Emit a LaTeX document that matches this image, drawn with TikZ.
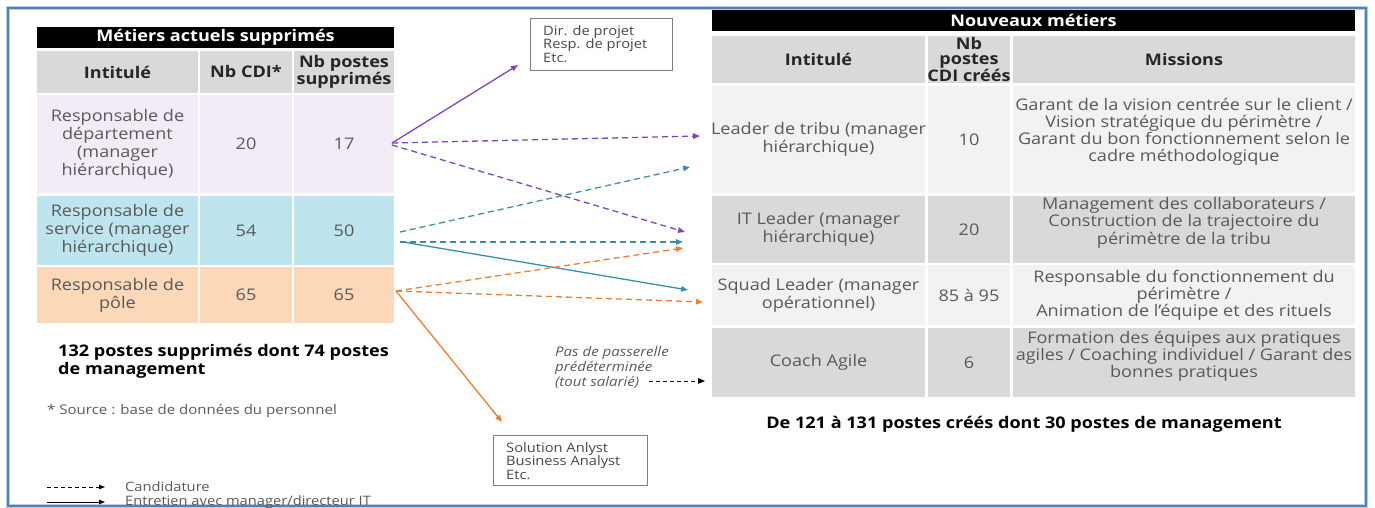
\documentclass[tikz,border=0pt]{standalone}
\usepackage{fontspec}
\setmainfont{Open Sans}[FakeStretch=1.13]
\usetikzlibrary{arrows.meta,calc}
\definecolor{framebl}{HTML}{4F81BD}
\definecolor{hdrgray}{HTML}{D9D9D9}
\definecolor{rowlight}{HTML}{F2F2F2}
\definecolor{rowdark}{HTML}{D9D9D9}
\definecolor{rowpurple}{HTML}{F2ECF7}
\definecolor{rowblue}{HTML}{BEE5EF}
\definecolor{rowpeach}{HTML}{FAD8B8}
\definecolor{txtgray}{HTML}{595959}
\definecolor{txtdark}{HTML}{262626}
\definecolor{cpurple}{HTML}{7F45BF}
\definecolor{cteal}{HTML}{3A8FA6}
\definecolor{corange}{HTML}{F07D2E}
\definecolor{boxline}{HTML}{7F7F7F}
\newcommand{\mkcell}[6]{\node[cellbox, fill=#6, minimum width=#4, minimum height=#5] (#1) at (#2,#3) {};}
\begin{document}
\begin{tikzpicture}[x=1pt,y=-1pt,
  cellbox/.style={rectangle, inner sep=0pt, outer sep=0pt, anchor=north west, draw=none},
  txt/.style={font=\fontsize{16}{18}\selectfont, text=txtgray, align=center, inner sep=0pt},
  hdr/.style={font=\fontsize{16}{17}\selectfont\bfseries, text=txtdark, align=center, inner sep=0pt},
  ttl/.style={font=\fontsize{16}{17}\selectfont\bfseries, text=white, inner sep=0pt},
  small/.style={font=\fontsize{13}{13.5}\selectfont, text=txtdark!85, align=left, inner sep=0pt},
  sbox/.style={rectangle, draw=boxline, line width=1pt, inner sep=0pt, anchor=north west},
  tip/.style={-{Triangle[length=7pt,width=5.5pt]}},
  solidarr/.style={tip, line width=1.3pt},
  dasharr/.style={tip, line width=1.3pt, dash pattern=on 6pt off 4pt},
]
\useasboundingbox (0,0) rectangle (1375,508);
% outer frame
\draw[framebl!40, line width=4pt] (8,8) rectangle (1366,506);
\draw[framebl, line width=2pt] (8,8) rectangle (1366,506);

% ---------------- left table
\node[cellbox, fill=black, minimum width=357, minimum height=21] (lt) at (37,27) {};
\node[ttl] at (lt.center) {Métiers actuels supprimés};
\mkcell{lh1}{37}{51}{161}{42}{hdrgray}
\mkcell{lh2}{200}{51}{92}{42}{hdrgray}
\mkcell{lh3}{294}{51}{100}{42}{hdrgray}
\node[hdr] at (lh1.center) {Intitulé};
\node[hdr] at (lh2.center) {Nb CDI*};
\node[hdr] at (lh3.center) {Nb postes\\supprimés};
\mkcell{lr1c1}{37}{95}{161}{98}{rowpurple}
\mkcell{lr1c2}{200}{95}{92}{98}{rowpurple}
\mkcell{lr1c3}{294}{95}{100}{98}{rowpurple}
\node[txt] at (lr1c1.center) {Responsable de\\département\\(manager\\hiérarchique)};
\node[txt] at (lr1c2.center) {20};
\node[txt] at (lr1c3.center) {17};
\mkcell{lr2c1}{37}{196}{161}{69}{rowblue}
\mkcell{lr2c2}{200}{196}{92}{69}{rowblue}
\mkcell{lr2c3}{294}{196}{100}{69}{rowblue}
\node[txt] at (lr2c1.center) {Responsable de\\service (manager\\hiérarchique)};
\node[txt] at (lr2c2.center) {54};
\node[txt] at (lr2c3.center) {50};
\mkcell{lr3c1}{37}{267}{161}{56}{rowpeach}
\mkcell{lr3c2}{200}{267}{92}{56}{rowpeach}
\mkcell{lr3c3}{294}{267}{100}{56}{rowpeach}
\node[txt] at (lr3c1.center) {Responsable de\\pôle};
\node[txt] at (lr3c2.center) {65};
\node[txt] at (lr3c3.center) {65};

\node[font=\fontsize{16}{18}\selectfont\bfseries, text=black, align=left, inner sep=0pt, anchor=north west] (tot) at (58,344) {132 postes supprimés dont 74 postes\\de management};
\node[font=\fontsize{13.3}{16}\selectfont, text=txtgray, inner sep=0pt, anchor=west] (src) at (47,411) {* Source : base de données du personnel};

% legend
\coordinate (lg1a) at (47,487); \coordinate (lg1b) at (105,487);
\coordinate (lg2a) at (47,502); \coordinate (lg2b) at (105,502);
\draw[line width=1pt, dash pattern=on 4pt off 3pt, -{Triangle[length=6pt,width=4.5pt]}] (lg1a) -- (lg1b);
\draw[line width=1pt, -{Triangle[length=6pt,width=4.5pt]}] (lg2a) -- (lg2b);
\node[font=\fontsize{13}{14}\selectfont, text=txtgray, inner sep=0pt, anchor=west] (lgt1) at (125,487) {Candidature};
\node[font=\fontsize{13}{14}\selectfont, text=txtgray, inner sep=0pt, anchor=west] (lgt2) at (125,502) {Entretien avec manager/directeur IT};

% ---------------- right table
\node[cellbox, fill=black, minimum width=643, minimum height=21] (rt) at (712,10) {};
\node[ttl] at (rt.center) {Nouveaux métiers};
\mkcell{rh1}{712}{36}{213}{47}{hdrgray}
\mkcell{rh2}{928}{36}{82}{47}{hdrgray}
\mkcell{rh3}{1013}{36}{342}{47}{hdrgray}
\node[hdr] at (rh1.center) {Intitulé};
\node[hdr, font=\fontsize{16}{15.5}\selectfont\bfseries] at (rh2.center) {Nb\\postes\\CDI créés};
\node[hdr] at (rh3.center) {Missions};

\mkcell{rr1c1}{712}{86}{213}{107}{rowlight}
\mkcell{rr1c2}{928}{86}{82}{107}{rowlight}
\mkcell{rr1c3}{1013}{86}{342}{107}{rowlight}
\node[txt] at (rr1c1.center) {Leader de tribu (manager\\hiérarchique)};
\node[txt] at (rr1c2.center) {10};
\node[txt, yshift=8, font=\fontsize{16}{17}\selectfont] at (rr1c3.center) {Garant de la vision centrée sur le client /\\Vision stratégique du périmètre /\\Garant du bon fonctionnement selon le\\cadre méthodologique};

\mkcell{rr2c1}{712}{196}{213}{67}{rowdark}
\mkcell{rr2c2}{928}{196}{82}{67}{rowdark}
\mkcell{rr2c3}{1013}{196}{342}{67}{rowdark}
\node[txt] at (rr2c1.center) {IT Leader (manager\\hiérarchique)};
\node[txt] at (rr2c2.center) {20};
\node[txt, yshift=7, font=\fontsize{16}{17.5}\selectfont] at (rr2c3.center) {Management des collaborateurs /\\Construction de la trajectoire du\\périmètre de la tribu};

\mkcell{rr3c1}{712}{265}{213}{60}{rowlight}
\mkcell{rr3c2}{928}{265}{82}{60}{rowlight}
\mkcell{rr3c3}{1013}{265}{342}{60}{rowlight}
\node[txt] at (rr3c1.center) {Squad Leader (manager\\opérationnel)};
\node[txt] at (rr3c2.center) {85 à 95};
\node[txt, font=\fontsize{16}{17}\selectfont] at (rr3c3.center) {Responsable du fonctionnement du\\périmètre /\\Animation de l'équipe et des rituels};

\mkcell{rr4c1}{712}{328}{213}{69}{rowdark}
\mkcell{rr4c2}{928}{328}{82}{69}{rowdark}
\mkcell{rr4c3}{1013}{328}{342}{69}{rowdark}
\node[txt] at (rr4c1.center) {Coach Agile};
\node[txt] at (rr4c2.center) {6};
\node[txt, yshift=6, font=\fontsize{16}{17}\selectfont] at (rr4c3.center) {Formation des équipes aux pratiques\\agiles / Coaching individuel / Garant des\\bonnes pratiques};

\node[font=\fontsize{16}{18}\selectfont\bfseries, text=black, inner sep=0pt] (tot2) at (1024,424) {De 121 à 131 postes créés dont 30 postes de management};

% ---------------- middle boxes
\node[sbox, minimum width=142, minimum height=52] (dir) at (530,18) {};
\node[small, anchor=north west] at (543,25) {Dir. de projet\\Resp. de projet\\Etc.};
\node[sbox, minimum width=154, minimum height=50] (sol) at (493,435) {};
\node[small, anchor=north west] at (506,442) {Solution Anlyst\\Business Analyst\\Etc.};

\node[font=\fontsize{13.3}{15}\selectfont\itshape, text=txtgray, align=left, inner sep=0pt, anchor=north west] (pas) at (555,346) {Pas de passerelle\\prédéterminée\\(tout salarié)};
\coordinate (pasend) at (649,381);
\draw[dasharr, draw=black, line width=1pt, dash pattern=on 4pt off 3pt] (pasend) -- ($(rr4c1.west)+(-7,18.5)$);

% ---------------- connectors
\draw[solidarr, cpurple] ($(lr1c3.east)+(-2,-1)$) -- ($(dir.south west)+(-12,-6)$);
\draw[dasharr, cpurple] ($(lr1c3.east)+(-2,-1)$) -- ($(rr1c1.west)+(-12,-3.5)$);
\draw[dasharr, cpurple] ($(lr1c3.east)+(-2,1)$) -- ($(rr2c1.west)+(-27,2.5)$);

\draw[dasharr, cteal] ($(lr2c3.east)+(6,1.5)$) -- ($(rr1c1.west)+(-22,27.5)$);
\draw[dasharr, cteal] ($(lr2c3.east)+(6,11.5)$) -- ($(rr2c1.west)+(-29,12.5)$);
\draw[solidarr, cteal] ($(lr2c3.east)+(6,11)$) -- ($(rr3c1.west)+(-24,-5)$);

\draw[dasharr, corange] ($(lr3c3.east)+(2,-4)$) -- ($(rr2c1.west)+(-29,18.5)$);
\draw[dasharr, corange] ($(lr3c3.east)+(2,-4)$) -- ($(rr3c1.west)+(-9,7)$);
\draw[solidarr, corange] ($(lr3c3.east)+(2,-4)$) -- ($(sol.north west)+(9,-13)$);
\end{tikzpicture}
\end{document}
